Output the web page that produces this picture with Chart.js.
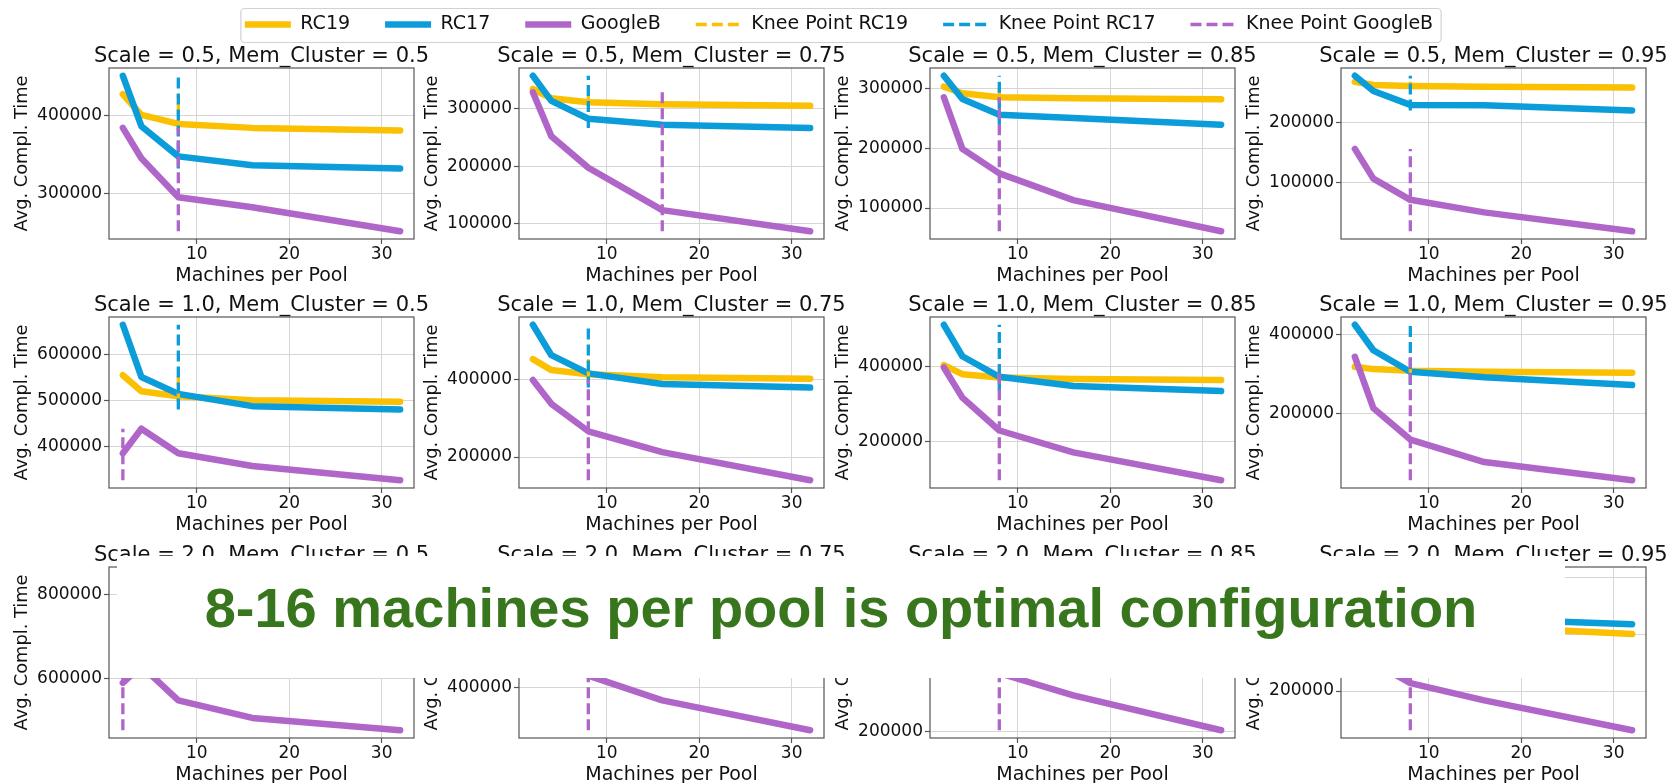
<!DOCTYPE html>
<html>
<head>
<meta charset="utf-8">
<script src="https://cdn.jsdelivr.net/npm/chart.js@4.4.1/dist/chart.umd.min.js"></script>
<style>
html,body{margin:0;padding:0;background:#fff;overflow:hidden;width:1671px;height:783px;}
canvas{position:absolute;}
#note{position:absolute;left:117px;top:556px;width:1448px;height:122px;background:#fff;z-index:10;}
#note span{position:absolute;left:0;right:0;top:24px;text-align:center;font:bold 56px/56px 'Liberation Sans',Arial,sans-serif;color:#38761d;white-space:nowrap;}
</style>
</head>
<body>
<div id="note"><span>8-16 machines per pool is optimal configuration</span></div>
<script>
// ---------------- data ----------------
const machines = [2, 4, 8, 16, 32];
const scaleValues = ['0.5', '1.0', '2.0'];
const memClusterValues = ['0.5', '0.75', '0.85', '0.95'];

const rc19 = [
  [427400, 401000, 389500, 384400, 381000],
  [334500, 318400, 311500, 308000, 305200],
  [303900, 292800, 286100, 284400, 282800],
  [267600, 262100, 260400, 259300, 258200],
  [555100, 520300, 509400, 500700, 497100],
  [451900, 423800, 412800, 405100, 401700],
  [402600, 378900, 370200, 365800, 363200],
  [318300, 312500, 308300, 305800, 303300],
  [760000, 700000, 680000, 668000, 662000],
  [660000, 610000, 595000, 588000, 585000],
  [600000, 560000, 548000, 542000, 540000],
  [470000, 450000, 435000, 427100, 401000]
];
const rc17 = [
  [451000, 386500, 348000, 336700, 332500],
  [357500, 313800, 282800, 272400, 266700],
  [322200, 283300, 256700, 251100, 240000],
  [277500, 252200, 229100, 228600, 219800],
  [665200, 551400, 514500, 487700, 480400],
  [540400, 462100, 415300, 388100, 378700],
  [509600, 426300, 371900, 347400, 334200],
  [424200, 360000, 305800, 291700, 272500],
  [846300, 730000, 690000, 665000, 655000],
  [778900, 680000, 625000, 605000, 598000],
  [724500, 640000, 585000, 562000, 552000],
  [610400, 520000, 470000, 454400, 436000]
];
const googleB = [
  [384400, 345600, 295800, 283000, 252300],
  [328700, 252300, 197700, 124100, 87400],
  [286100, 199400, 158300, 113300, 61100],
  [156000, 106600, 71400, 50500, 19200],
  [384800, 438400, 384800, 357200, 326100],
  [398300, 337000, 266400, 212800, 140400],
  [396500, 316700, 229800, 171900, 98200],
  [343300, 214200, 135000, 78300, 32500],
  [590600, 630500, 549000, 507500, 478400],
  [700000, 560000, 440800, 357700, 257700],
  [640000, 500000, 394300, 320000, 203300],
  [420000, 302000, 228000, 167000, 61800]
];
const kneeRC19 = [8, 8, 8, 8, 8, 8, 8, 8, 8, 8, 8, 8];
const kneeRC17 = [8, 8, 8, 8, 8, 8, 8, 8, 8, 8, 8, 8];
const kneeGoogleB = [8, 16, 8, 8, 2, 8, 8, 8, 2, 8, 8, 8];
const yTicks = [
  [300000, 400000],
  [100000, 200000, 300000],
  [100000, 200000, 300000],
  [100000, 200000],
  [400000, 500000, 600000],
  [200000, 400000],
  [200000, 400000],
  [200000, 400000],
  [600000, 800000],
  [400000, 600000],
  [200000, 400000, 600000],
  [200000, 400000, 600000]
];
const xTicks = [10, 20, 30];
const seriesNames = ['RC19', 'RC17', 'GoogleB'];
const kneeNames = ['Knee Point RC19', 'Knee Point RC17', 'Knee Point GoogleB'];
const xTitle = 'Machines per Pool';
const yTitle = 'Avg. Compl. Time';

// ---------------- styles / layout ----------------
const COLORS = ['#FBC002', '#0B9CDA', '#AF66C8'];
const PLOT_LEFT = [109, 519, 930, 1341];
const PLOT_TOP = [68, 317, 567];
const PLOT_W = 305, PLOT_H = 171;
const Y_W = 100, X_H = 48, T_H = 30;
const TEXT = '#111';
const GRID = '#d6d6d6';
const SPINE = '#555';

Chart.defaults.font.family = "'DejaVu Sans'";
Chart.defaults.color = TEXT;

function paddedRange(vals) {
  const lo = Math.min(...vals), hi = Math.max(...vals), m = (hi - lo) * 0.05;
  return [lo - m, hi + m];
}

const frame = {
  id: 'frame',
  afterDatasetsDraw(chart) {
    const {ctx, chartArea: a} = chart;
    ctx.save();
    ctx.strokeStyle = SPINE;
    ctx.lineWidth = 1.2;
    ctx.strokeRect(a.left, a.top, a.right - a.left, a.bottom - a.top);
    ctx.restore();
  }
};

for (let i = 0; i < 12; i++) {
  const r = Math.floor(i / 4), c = i % 4;
  const cv = document.createElement('canvas');
  const W = Y_W * 2 + PLOT_W, H = T_H + PLOT_H + X_H;
  cv.width = W; cv.height = H;
  cv.style.left = (PLOT_LEFT[c] - Y_W) + 'px';
  cv.style.top = (PLOT_TOP[r] - T_H) + 'px';
  cv.style.width = W + 'px'; cv.style.height = H + 'px';
  document.body.appendChild(cv);

  const series = [rc19[i], rc17[i], googleB[i]];
  const knees = [kneeRC19[i], kneeRC17[i], kneeGoogleB[i]];
  const datasets = [];
  series.forEach((vals, s) => datasets.push({
    label: seriesNames[s],
    data: machines.map((x, j) => ({x, y: vals[j]})),
    borderColor: COLORS[s], borderWidth: 6.5, pointRadius: 0,
    borderJoinStyle: 'round', borderCapStyle: 'round', tension: 0, order: 5 - s
  }));
  series.forEach((vals, s) => datasets.push({
    label: kneeNames[s],
    data: [{x: knees[s], y: Math.min(...vals)}, {x: knees[s], y: Math.max(...vals)}],
    borderColor: COLORS[s], borderWidth: 3.3, borderDash: [11, 5], pointRadius: 0,
    borderCapStyle: 'butt', order: 2 - s
  }));
  const [ymin, ymax] = paddedRange(series.flat());
  const [xmin, xmax] = paddedRange(machines);
  const yt = yTicks[i];

  new Chart(cv, {
    type: 'line',
    data: {datasets},
    options: {
      responsive: false, animation: false, devicePixelRatio: 1,
      layout: {padding: 0},
      plugins: {
        legend: {display: false},
        tooltip: {enabled: false},
        title: {
          display: true, fullSize: true,
          text: 'Scale = ' + scaleValues[r] + ', Mem_Cluster = ' + memClusterValues[c],
          font: {size: 21, weight: 'normal'}, color: TEXT,
          padding: {top: 5.5, bottom: -0.7}
        }
      },
      scales: {
        x: {
          type: 'linear', min: xmin, max: xmax,
          afterBuildTicks: a => { a.ticks = xTicks.map(v => ({value: v})); },
          afterFit: s => { s.height = X_H; },
          ticks: {font: {size: 17}, color: TEXT, padding: 0, autoSkip: false, maxRotation: 0, callback: v => String(v)},
          grid: {color: GRID, lineWidth: 1, drawTicks: true, tickLength: 5, tickColor: SPINE, tickWidth: 1.2},
          border: {display: false},
          title: {display: true, text: xTitle, font: {size: 19}, color: TEXT, padding: {top: 3, bottom: 0}}
        },
        y: {
          type: 'linear', position: 'left', min: ymin, max: ymax,
          afterBuildTicks: a => { a.ticks = yt.map(v => ({value: v})); },
          afterFit: s => { s.width = Y_W; },
          ticks: {font: {size: 17}, color: TEXT, padding: 2, autoSkip: false, callback: v => String(v)},
          grid: {color: GRID, lineWidth: 1, drawTicks: true, tickLength: 5, tickColor: SPINE, tickWidth: 1.2},
          border: {display: false},
          title: {display: true, text: yTitle, font: {size: 17.8}, color: TEXT, padding: {top: 3, bottom: 0}}
        },
        yPad: {
          type: 'linear', position: 'right', display: true,
          afterFit: s => { s.width = Y_W; },
          ticks: {display: false},
          grid: {display: false, drawTicks: false},
          border: {display: false}
        }
      }
    },
    plugins: [frame]
  });
}

// ---------------- legend ----------------
const legendFrame = {
  id: 'legendFrame',
  afterDraw(chart) {
    const hb = chart.legend.legendHitBoxes;
    if (!hb || !hb.length) return;
    const last = hb[hb.length - 1];
    const l = hb[0].left - 4, rr = last.left + last.width + 8;
    const cy = hb[0].top + hb[0].height / 2;
    const ctx = chart.ctx;
    ctx.save();
    ctx.strokeStyle = '#d2d2d2';
    ctx.lineWidth = 1.2;
    ctx.beginPath();
    ctx.roundRect(l, cy - 16, rr - l, 34, 4);
    ctx.stroke();
    ctx.restore();
  }
};
const lcv = document.createElement('canvas');
lcv.width = 1664; lcv.height = 300;
lcv.style.left = '7px'; lcv.style.top = '-20px';
lcv.style.width = '1664px'; lcv.style.height = '300px';
document.body.appendChild(lcv);
const legendSets = [];
seriesNames.forEach((n, s) => legendSets.push({label: n, data: [], borderColor: COLORS[s], borderWidth: 6.5}));
kneeNames.forEach((n, s) => legendSets.push({label: n, data: [], borderColor: COLORS[s], borderWidth: 3.3, borderDash: [11, 5]}));
new Chart(lcv, {
  type: 'line',
  data: {datasets: legendSets},
  options: {
    responsive: false, animation: false, devicePixelRatio: 1,
    layout: {padding: 0},
    scales: {x: {display: false}, y: {display: false}},
    plugins: {
      tooltip: {enabled: false},
      legend: {
        display: true, position: 'top', maxHeight: 200,
        labels: {
          usePointStyle: true, pointStyleWidth: 46, padding: 35,
          font: {size: 19}, color: TEXT,
          generateLabels: ch => ch.data.datasets.map((d, k) => ({
            text: d.label, fillStyle: 'rgba(0,0,0,0)', strokeStyle: d.borderColor,
            lineWidth: d.borderWidth, lineDash: d.borderDash || [], lineCap: 'butt',
            pointStyle: 'line', hidden: false, datasetIndex: k, fontColor: TEXT
          }))
        }
      }
    }
  },
  plugins: [legendFrame]
});
</script>
</body>
</html>
